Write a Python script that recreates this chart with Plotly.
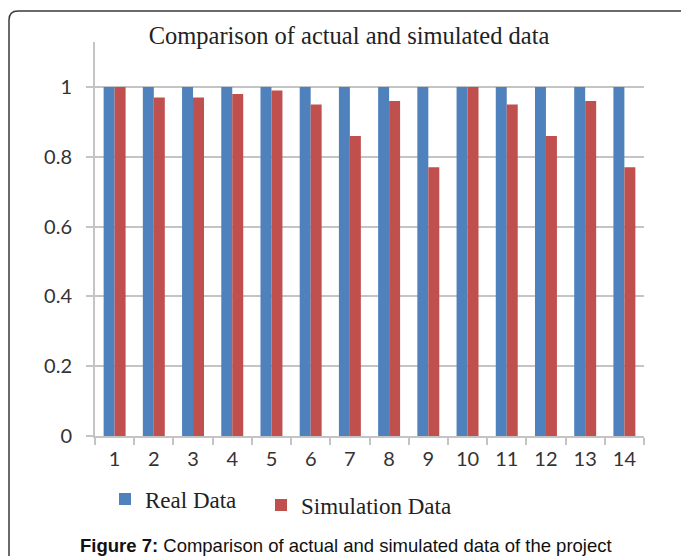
import plotly.graph_objects as go

# Category labels and series values
projects = [str(i) for i in range(1, 15)]
real_data = [1, 1, 1, 1, 1, 1, 1, 1, 1, 1, 1, 1, 1, 1]
simulation_data = [1.0, 0.97, 0.97, 0.98, 0.99, 0.95, 0.86, 0.96, 0.77, 1.0, 0.95, 0.86, 0.96, 0.77]
y_ticks = [0, 0.2, 0.4, 0.6, 0.8, 1]
y_tick_text = ["0", "0.2", "0.4", "0.6", "0.8", "1"]

W, H = 681, 556
L, R, T, B = 95, 37, 42, 119.5
PW, PH = W - L - R, H - T - B


def px_x(x):
    return (x - L) / PW


def px_y(y):
    return (H - B - y) / PH


BLUE = "#4F81BD"
RED = "#C0504D"
GRID = "#c4c4c4"
SERIF = "Liberation Serif, Times New Roman, serif"
SANS = "Lato, Carlito, Calibri, sans-serif"

fig = go.Figure()
fig.add_trace(go.Bar(x=projects, y=real_data, name="Real Data", showlegend=True,
                     marker=dict(color=BLUE, line=dict(width=0)), legend="legend"))
fig.add_trace(go.Bar(x=projects, y=simulation_data, name="Simulation Data", showlegend=True,
                     marker=dict(color=RED, line=dict(width=0)), legend="legend2"))

# rounded frame around the figure panel
x0, y0, x1, y1, r = px_x(9), px_y(11), px_x(700), px_y(600), 9
fr = r / PW
frh = r / PH
frame_path = (f"M {x0},{y1} L {x0},{y0 - frh} Q {x0},{y0} {x0 + fr},{y0} "
              f"L {x1},{y0}")
fig.add_shape(type="path", path=frame_path, xref="paper", yref="paper",
              line=dict(color="#3a3a3a", width=1.5), layer="above")

fig.add_annotation(
    text="<b>Figure 7:</b> Comparison of actual and simulated data of the project",
    xref="paper", yref="paper", x=px_x(346), y=px_y(546),
    xanchor="center", yanchor="middle", showarrow=False,
    font=dict(family="Liberation Sans, Arial, sans-serif", size=18.5, color="#111"))

legend_font = dict(family=SERIF, size=23, color="#222")

fig.update_layout(
    width=W, height=H,
    margin=dict(l=L, r=R, t=T, b=B, autoexpand=False),
    paper_bgcolor="white", plot_bgcolor="white",
    showlegend=True,
    barmode="group", bargap=0.44, bargroupgap=0,
    title=dict(text="Comparison of actual and simulated data",
               xref="container", yref="container",
               x=349 / W, y=1 - 35 / H, xanchor="center", yanchor="middle",
               font=dict(family=SERIF, size=24.5, color="#222")),
    legend=dict(orientation="h", xref="container", yref="container",
                x=105 / W, y=1 - 499 / H, xanchor="left", yanchor="middle",
                font=legend_font, bgcolor="rgba(0,0,0,0)", itemclick=False),
    legend2=dict(orientation="h", xref="container", yref="container",
                 x=261 / W, y=1 - 505 / H, xanchor="left", yanchor="middle",
                 font=legend_font, bgcolor="rgba(0,0,0,0)", itemclick=False),
    xaxis=dict(type="category", showgrid=False, showline=True,
               linecolor=GRID, linewidth=2, ticks="outside", tickson="boundaries",
               ticklen=7, tickcolor=GRID, tickwidth=2,
               tickfont=dict(family=SANS, size=20, color="#333"),
               ticklabelstandoff=4, zeroline=False),
    yaxis=dict(range=[0, 1.129], tickvals=y_ticks, ticktext=y_tick_text,
               showgrid=True, gridcolor=GRID, gridwidth=2,
               showline=True, linecolor=GRID, linewidth=2,
               ticks="outside", ticklen=7, tickcolor=GRID, tickwidth=2,
               tickfont=dict(family=SANS, size=20, color="#333"),
               ticklabelstandoff=10, zeroline=False),
)

fig.write_html("out.html")
